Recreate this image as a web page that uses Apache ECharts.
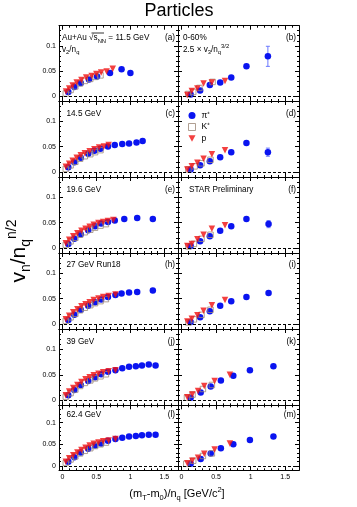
<!DOCTYPE html>
<html><head><meta charset="utf-8">
<script src="https://cdn.jsdelivr.net/npm/echarts@6/dist/echarts.min.js"></script>
<style>html,body{margin:0;padding:0;background:#fff}#c{width:357px;height:507px}</style>
</head><body><div id="c"></div>
<script>
// ---------- tick values ----------
const xMajorTicks = [0, 0.5, 1, 1.5];
const xMinorTicks = [0,0.1,0.2,0.3,0.4,0.5,0.6,0.7,0.8,0.9,1,1.1,1.2,1.3,1.4,1.5,1.6,1.7];
const yMajorTicks = [0, 0.05, 0.1];
const yMinorTicks = [0,0.01,0.02,0.03,0.04,0.05,0.06,0.07,0.08,0.09,0.1,0.11,0.12,0.13];

// ---------- v2/nq (left column) ----------
const v2_115_pi = [[0.087,0.008],[0.175,0.018],[0.27,0.026],[0.39,0.033],[0.51,0.039],[0.70,0.046],[0.87,0.053],[1.0,0.046]];
const v2_115_K  = [[0.05,0.005],[0.12,0.012],[0.19,0.019],[0.26,0.025],[0.33,0.030],[0.41,0.034],[0.48,0.038],[0.56,0.041]];
const v2_115_p  = [[0.053,0.009],[0.10,0.015],[0.15,0.021],[0.21,0.027],[0.28,0.032],[0.35,0.037],[0.43,0.040],[0.50,0.044],[0.57,0.047],[0.65,0.049],[0.74,0.054]];

const v2_145_pi = [[0.087,0.009],[0.175,0.019],[0.27,0.028],[0.38,0.036],[0.47,0.042],[0.56,0.046],[0.67,0.050],[0.77,0.053],[0.88,0.055],[0.98,0.056],[1.09,0.058],[1.18,0.061]];
const v2_145_K  = [[0.05,0.006],[0.12,0.013],[0.19,0.020],[0.26,0.026],[0.33,0.031],[0.41,0.035],[0.48,0.039],[0.56,0.043]];
const v2_145_p  = [[0.05,0.010],[0.10,0.016],[0.15,0.022],[0.21,0.028],[0.27,0.033],[0.33,0.037],[0.40,0.041],[0.47,0.045],[0.54,0.048],[0.61,0.050],[0.68,0.053]];

const v2_196_pi = [[0.087,0.008],[0.175,0.018],[0.27,0.027],[0.38,0.035],[0.48,0.043],[0.57,0.048],[0.67,0.051],[0.77,0.054],[0.91,0.057],[1.10,0.059],[1.33,0.057]];
const v2_196_K  = [[0.05,0.006],[0.12,0.013],[0.19,0.020],[0.26,0.026],[0.33,0.031],[0.41,0.036],[0.48,0.040],[0.56,0.044],[0.64,0.047]];
const v2_196_p  = [[0.05,0.009],[0.10,0.016],[0.16,0.023],[0.22,0.029],[0.28,0.034],[0.34,0.038],[0.40,0.042],[0.46,0.046],[0.53,0.049],[0.60,0.051],[0.67,0.053],[0.75,0.055]];

const v2_27_pi  = [[0.087,0.008],[0.175,0.018],[0.27,0.028],[0.38,0.036],[0.48,0.043],[0.57,0.048],[0.67,0.053],[0.78,0.057],[0.87,0.060],[0.98,0.062],[1.10,0.063],[1.33,0.066]];
const v2_27_K   = [[0.05,0.006],[0.12,0.013],[0.19,0.020],[0.26,0.027],[0.33,0.032],[0.41,0.037],[0.48,0.041],[0.56,0.045],[0.64,0.049]];
const v2_27_p   = [[0.05,0.009],[0.10,0.016],[0.16,0.023],[0.22,0.029],[0.28,0.035],[0.34,0.039],[0.40,0.043],[0.46,0.047],[0.53,0.050],[0.60,0.053],[0.68,0.055],[0.78,0.058]];

const v2_39_pi  = [[0.087,0.010],[0.175,0.020],[0.27,0.030],[0.38,0.038],[0.48,0.045],[0.57,0.051],[0.67,0.056],[0.78,0.059],[0.88,0.063],[0.98,0.066],[1.08,0.067],[1.17,0.068],[1.27,0.070],[1.37,0.068]];
const v2_39_K   = [[0.05,0.007],[0.12,0.014],[0.19,0.021],[0.26,0.028],[0.33,0.034],[0.41,0.039],[0.48,0.043],[0.56,0.047],[0.64,0.051]];
const v2_39_p   = [[0.05,0.010],[0.10,0.017],[0.16,0.024],[0.22,0.030],[0.28,0.036],[0.34,0.041],[0.40,0.045],[0.46,0.049],[0.53,0.052],[0.60,0.055],[0.68,0.057],[0.78,0.059]];

const v2_624_pi = [[0.087,0.010],[0.175,0.020],[0.27,0.031],[0.38,0.040],[0.48,0.047],[0.57,0.052],[0.67,0.058],[0.78,0.062],[0.88,0.065],[0.98,0.068],[1.08,0.069],[1.17,0.071],[1.27,0.072],[1.37,0.072]];
const v2_624_K  = [[0.05,0.007],[0.12,0.015],[0.19,0.022],[0.26,0.029],[0.33,0.035],[0.41,0.041],[0.48,0.046],[0.56,0.050],[0.64,0.054]];
const v2_624_p  = [[0.05,0.010],[0.10,0.018],[0.16,0.025],[0.22,0.031],[0.28,0.037],[0.34,0.042],[0.40,0.047],[0.46,0.051],[0.53,0.054],[0.60,0.057],[0.68,0.059],[0.78,0.062]];

// ---------- 2.5 x v3/nq^{3/2} (right column) ----------
const v3_115_pi = [[0.133,0.003],[0.27,0.011],[0.41,0.022],[0.56,0.027],[0.72,0.037],[0.94,0.059],[1.25,0.079]];
const v3_115_K  = [[0.10,0.004],[0.17,0.008],[0.26,0.016],[0.45,0.028]];
const v3_115_p  = [[0.085,0.002],[0.15,0.010],[0.23,0.015],[0.32,0.025],[0.44,0.027],[0.63,0.030]];
const v3_115_err = [[1.25,0.079,0.020]];

const v3_145_pi = [[0.133,0.005],[0.27,0.013],[0.41,0.021],[0.56,0.029],[0.72,0.039],[0.94,0.057],[1.25,0.039]];
const v3_145_K  = [[0.10,0.005],[0.19,0.011],[0.29,0.017],[0.42,0.024]];
const v3_145_p  = [[0.085,0.005],[0.15,0.011],[0.23,0.018],[0.32,0.026],[0.44,0.035],[0.63,0.043]];
const v3_145_err = [[1.25,0.039,0.008]];

const v3_196_pi = [[0.133,0.004],[0.27,0.013],[0.41,0.023],[0.56,0.034],[0.72,0.043],[0.94,0.057],[1.26,0.047]];
const v3_196_K  = [[0.10,0.003],[0.18,0.008],[0.29,0.018],[0.42,0.026]];
const v3_196_p  = [[0.085,0.004],[0.15,0.008],[0.23,0.017],[0.32,0.026],[0.44,0.038],[0.63,0.045]];
const v3_196_err = [[1.26,0.047,0.007]];

const v3_27_pi  = [[0.133,0.004],[0.27,0.013],[0.41,0.025],[0.56,0.036],[0.72,0.045],[0.94,0.053],[1.26,0.061]];
const v3_27_K   = [[0.10,0.003],[0.18,0.009],[0.29,0.018],[0.42,0.028]];
const v3_27_p   = [[0.085,0.005],[0.15,0.010],[0.23,0.017],[0.32,0.026],[0.44,0.037],[0.63,0.047]];

const v3_39_pi  = [[0.133,0.005],[0.278,0.015],[0.423,0.027],[0.57,0.039],[0.75,0.048],[0.99,0.059],[1.33,0.067]];
const v3_39_K   = [[0.08,0.005],[0.16,0.011],[0.31,0.022],[0.44,0.030]];
const v3_39_p   = [[0.085,0.006],[0.157,0.011],[0.24,0.018],[0.33,0.028],[0.48,0.038],[0.70,0.050]];

const v3_624_pi = [[0.133,0.005],[0.278,0.016],[0.423,0.029],[0.57,0.041],[0.75,0.050],[0.99,0.060],[1.33,0.068]];
const v3_624_K  = [[0.07,0.005],[0.17,0.012],[0.31,0.023],[0.44,0.029]];
const v3_624_p  = [[0.085,0.006],[0.157,0.012],[0.24,0.019],[0.33,0.028],[0.48,0.038],[0.70,0.052]];

// ---------- text ----------
const energyLabels = ['Au+Au', '14.5 GeV', '19.6 GeV', '27 GeV Run18', '39 GeV', '62.4 GeV'];
const leftTags  = ['(a)','(c)','(e)','(h)','(j)','(l)'];
const rightTags = ['(b)','(d)','(f)','(i)','(k)','(m)'];
const speciesNames = ['\u03c0\u207a', 'K\u207a', 'p'];

// ---------- layout / style ----------
const FONT = '"Liberation Sans", Arial, Helvetica, sans-serif';
const PI_COL = '#0a14f0', K_COL = '#9c8878', P_COL = '#f01010', ERR_COL = '#6a78ff';
const colLeft = [59, 178], colWidth = [119, 121];
const rowTop = [25.7, 101, 177, 253, 329, 405.3], rowH = [75.3, 76, 76, 76, 76.3, 65];
const XMIN = -0.05, XMAX = 1.7, YMIN = -0.01, YMAX = 0.14;

const panels = [
  [v2_115_pi, v2_115_K, v2_115_p, null],   [v3_115_pi, v3_115_K, v3_115_p, v3_115_err],
  [v2_145_pi, v2_145_K, v2_145_p, null],   [v3_145_pi, v3_145_K, v3_145_p, v3_145_err],
  [v2_196_pi, v2_196_K, v2_196_p, null],   [v3_196_pi, v3_196_K, v3_196_p, v3_196_err],
  [v2_27_pi, v2_27_K, v2_27_p, null],      [v3_27_pi, v3_27_K, v3_27_p, null],
  [v2_39_pi, v2_39_K, v2_39_p, null],      [v3_39_pi, v3_39_K, v3_39_p, null],
  [v2_624_pi, v2_624_K, v2_624_p, null],   [v3_624_pi, v3_624_K, v3_624_p, null]
];

const grids = [], xAxes = [], yAxes = [], series = [];
const black = {color:'#000', width:1};
panels.forEach((pn, g) => {
  const row = Math.floor(g/2), col = g % 2;
  grids.push({left: colLeft[col], top: rowTop[row], width: colWidth[col], height: rowH[row], containLabel:false});
  const xb = {type:'value', gridIndex:g, min:XMIN, max:XMAX, splitLine:{show:false}};
  const showX = row === 5;
  const lab = (show, vals) => ({show, customValues: vals, fontSize:7, color:'#000', fontFamily:FONT, margin:3,
                                formatter: v => String(Math.round(v*1000)/1000)});
  xAxes.push(
    {...xb, position:'bottom', axisLine:{show:true,onZero:false,lineStyle:black},
      axisTick:{show:true,inside:true,length:4,customValues:xMajorTicks,lineStyle:black}, axisLabel:lab(showX, xMajorTicks)},
    {...xb, position:'top', axisLine:{show:true,onZero:false,lineStyle:black},
      axisTick:{show:true,inside:true,length:4,customValues:xMajorTicks,lineStyle:black}, axisLabel:{show:false}},
    {...xb, position:'bottom', axisLine:{show:false,onZero:false},
      axisTick:{show:true,inside:true,length:2,customValues:xMinorTicks,lineStyle:black}, axisLabel:{show:false}},
    {...xb, position:'top', axisLine:{show:false,onZero:false},
      axisTick:{show:true,inside:true,length:2,customValues:xMinorTicks,lineStyle:black}, axisLabel:{show:false}}
  );
  const yb = {type:'value', gridIndex:g, min:YMIN, max:YMAX, splitLine:{show:false}};
  const showY = col === 0;
  yAxes.push(
    {...yb, position:'left', axisLine:{show:true,onZero:false,lineStyle:black},
      axisTick:{show:true,inside:true,length:4,customValues:yMajorTicks,lineStyle:black}, axisLabel:lab(showY, yMajorTicks)},
    {...yb, position:'right', axisLine:{show:true,onZero:false,lineStyle:black},
      axisTick:{show:true,inside:true,length:4,customValues:yMajorTicks,lineStyle:black}, axisLabel:{show:false}},
    {...yb, position:'left', axisLine:{show:false,onZero:false},
      axisTick:{show:true,inside:true,length:2,customValues:yMinorTicks,lineStyle:black}, axisLabel:{show:false}},
    {...yb, position:'right', axisLine:{show:false,onZero:false},
      axisTick:{show:true,inside:true,length:2,customValues:yMinorTicks,lineStyle:black}, axisLabel:{show:false}}
  );
  const ax = {xAxisIndex: 4*g, yAxisIndex: 4*g};
  if (pn[3]) {
    series.push({type:'custom', ...ax, z:1, silent:true, data: pn[3],
      renderItem: (params, api) => {
        const x = api.value(0), y = api.value(1), e = api.value(2);
        const lo = api.coord([x, y-e]), hi = api.coord([x, y+e]);
        const st = {stroke: ERR_COL, lineWidth: 1};
        return {type:'group', children:[
          {type:'line', shape:{x1:lo[0],y1:lo[1],x2:hi[0],y2:hi[1]}, style:st},
          {type:'line', shape:{x1:lo[0]-2,y1:lo[1],x2:lo[0]+2,y2:lo[1]}, style:st},
          {type:'line', shape:{x1:hi[0]-2,y1:hi[1],x2:hi[0]+2,y2:hi[1]}, style:st}
        ]};
      }});
  }
  series.push({type:'scatter', name: speciesNames[0], ...ax, z:3, data: pn[0], symbol:'circle', symbolSize:6.5,
    itemStyle:{color:PI_COL, opacity:1}, silent:true,
    markLine:{silent:true, symbol:'none', label:{show:false}, animation:false,
      lineStyle:{color:'#000', width:1, type:[3,2]}, data:[{yAxis:0}]}});
  series.push({type:'scatter', name: speciesNames[1], ...ax, z:4, data: pn[1], symbol:'rect', symbolSize:5.5,
    itemStyle:{color:'rgba(0,0,0,0)', borderColor:K_COL, borderWidth:1}, silent:true});
  series.push({type:'scatter', name: speciesNames[2], ...ax, z:5, data: pn[2], symbol:'triangle', symbolRotate:180, symbolSize:6.5,
    itemStyle:{color:P_COL}, silent:true});
});

// ---------- text annotations ----------
const RICH = {
  n:{fontSize:8.2, fontFamily:FONT, lineHeight:12, fill:'#000', color:'#000'},
  sub:{fontSize:5.8, fontFamily:FONT, lineHeight:6, verticalAlign:'bottom', fill:'#000', color:'#000'},
  sup:{fontSize:5.8, fontFamily:FONT, lineHeight:6, verticalAlign:'top', fill:'#000', color:'#000'},
  N:{fontSize:21, fontFamily:FONT, lineHeight:28, fill:'#000', color:'#000'},
  NS:{fontSize:14, fontFamily:FONT, lineHeight:14, verticalAlign:'bottom', fill:'#000', color:'#000'},
  NP:{fontSize:14, fontFamily:FONT, lineHeight:14, verticalAlign:'top', fill:'#000', color:'#000'},
  M:{fontSize:11, fontFamily:FONT, lineHeight:16, fill:'#000', color:'#000'},
  MS:{fontSize:7.5, fontFamily:FONT, lineHeight:8, verticalAlign:'bottom', fill:'#000', color:'#000'},
  MP:{fontSize:7.5, fontFamily:FONT, lineHeight:8, verticalAlign:'top', fill:'#000', color:'#000'}
};
function txt(x, y, text, align, size, rot) {
  return {type:'text', x, y, rotation: rot || 0, silent:true, z:100,
    style:{text, fill:'#000', font: (size||8) + 'px ' + FONT, align: align||'left', verticalAlign:'middle',
      textAlign: align||'left', textVerticalAlign:'middle', rich: RICH}};
}
const graphics = [];
const rowY = [38, 114, 190, 265, 341.5, 415];
energyLabels.forEach((t, r) => {
  if (r === 0) {
    graphics.push(txt(62, rowY[0], '{n|' + t + ' \u221a}{n|s}{sub|NN}{n| = 11.5 GeV}'));
  } else {
    graphics.push(txt(66.5, rowY[r], '{n|' + t + '}'));
  }
  graphics.push(txt(175, rowY[r], '{n|' + leftTags[r] + '}', 'right'));
  graphics.push(txt(296, rowY[r], '{n|' + rightTags[r] + '}', 'right'));
});
graphics.push({type:'line', silent:true, z:100, shape:{x1:91.5, y1:33, x2:104, y2:33}, style:{stroke:'#000', lineWidth:0.8}});
graphics.push(txt(62, 49.5, '{n|v}{sub|2}{n|/n}{sub|q}'));
graphics.push(txt(183, 38, '{n|0-60%}'));
graphics.push(txt(183, 49.5, '{n|2.5 \u00d7 v}{sub|3}{n|/n}{sub|q}{sup|3/2}'));
graphics.push(txt(189, rowY[2], '{n|STAR Preliminary}'));
graphics.push(txt(179, 11, 'Particles', 'center', 18));
graphics.push(txt(19, 251, '{N|v}{NS|n}{N|/n}{NS|q}{NP|n/2}', 'center', 21, Math.PI/2));
graphics.push(txt(177, 494, '{M|(m}{MS|T}{M|-m}{MS|0}{M|)/n}{MS|q}{M| [GeV/c}{MP|2}{M|]}', 'center', 11));

const chart = echarts.init(document.getElementById('c'), null, {renderer:'canvas'});
chart.setOption({
  animation:false,
  backgroundColor:'#fff',
  grid: grids, xAxis: xAxes, yAxis: yAxes, series,
  legend: {orient:'vertical', left:186, top:109, padding:[2,2,2,2], itemWidth:7, itemHeight:7, itemGap:2.5, selectedMode:false,
    textStyle:{fontSize:8.5, fontFamily:FONT, color:'#000', padding:[0,0,0,1]},
    data:[{name:speciesNames[0], icon:'circle'},
          {name:speciesNames[1], icon:'rect', itemStyle:{color:'rgba(0,0,0,0)', borderColor:K_COL, borderWidth:1}},
          {name:speciesNames[2], icon:'path://M0,0L10,0L5,9Z'}]},
  graphic: graphics
});
</script></body></html>
